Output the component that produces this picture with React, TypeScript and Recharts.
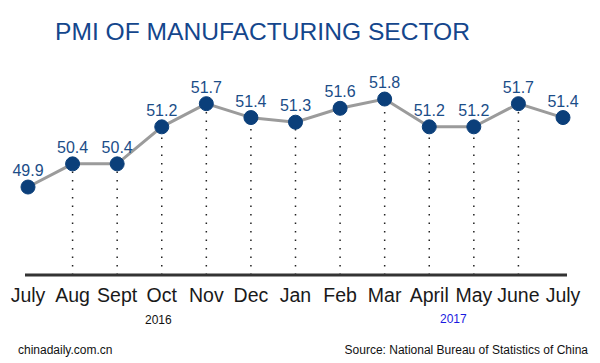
import { LineChart, Line, XAxis, YAxis, LabelList, ReferenceLine } from "recharts";

const months = ["July", "Aug", "Sept", "Oct", "Nov", "Dec", "Jan", "Feb", "Mar", "April", "May", "June", "July"];
const keys = ["2016-07", "2016-08", "2016-09", "2016-10", "2016-11", "2016-12", "2017-01", "2017-02", "2017-03", "2017-04", "2017-05", "2017-06", "2017-07"];
const pmi = [49.9, 50.4, 50.4, 51.2, 51.7, 51.4, 51.3, 51.6, 51.8, 51.2, 51.2, 51.7, 51.4];

const data = keys.map((k, i) => ({ key: k, month: months[i], value: pmi[i] }));

const FONT = '"Liberation Sans", Arial, sans-serif';
const Y_MIN = 48.0;

function MonthTick(props: any) {
  const { x, y, payload } = props;
  return (
    <text x={x} y={y} dy={27} textAnchor="middle" fontSize={19.5} fill="#1a1a1a" fontFamily={FONT}>
      {months[payload.index]}
    </text>
  );
}

export default function App() {
  return (
    <div style={{ position: "relative", width: 600, height: 363, background: "#fff", fontFamily: FONT }}>
      <style>{"body{margin:0}"}</style>
      <div style={{ position: "absolute", left: 55, top: 18, fontSize: 24.6, color: "#14468c", whiteSpace: "nowrap", lineHeight: "28px" }}>
        PMI OF MANUFACTURING SECTOR
      </div>
      <LineChart width={600} height={363} data={data} margin={{ top: 62, right: 33, left: 25, bottom: 48 }}>
        <XAxis
          dataKey="key"
          height={40}
          padding={{ left: 3, right: 4 }}
          axisLine={{ stroke: "#333", strokeWidth: 3 }}
          tickLine={false}
          tickSize={0}
          tickMargin={0}
          interval={0}
          tick={<MonthTick />}
        />
        <YAxis hide domain={[Y_MIN, 52.6]} />
        {data.slice(1, -1).map((d) => (
          <ReferenceLine
            key={d.key}
            segment={[{ x: d.key, y: Y_MIN }, { x: d.key, y: d.value }]}
            stroke="#222"
            strokeWidth={1.5}
            strokeDasharray="1.5 7"
          />
        ))}
        <Line
          type="linear"
          dataKey="value"
          stroke="#9b9b9b"
          strokeWidth={3}
          isAnimationActive={false}
          dot={{ r: 7, fill: "#0b3f7a", stroke: "#0b3f7a", strokeWidth: 1 }}
          activeDot={false}
        >
          <LabelList dataKey="value" position="top" offset={11} fill="#1b4d88" fontSize={16} fontFamily={FONT} />
        </Line>
      </LineChart>
      <div style={{ position: "absolute", left: 145, top: 313, fontSize: 12, color: "#111" }}>2016</div>
      <div style={{ position: "absolute", left: 440, top: 312, fontSize: 12, color: "#1a1ae0" }}>2017</div>
      <div style={{ position: "absolute", left: 18, top: 343, fontSize: 12, color: "#111" }}>chinadaily.com.cn</div>
      <div style={{ position: "absolute", right: 12, top: 343, fontSize: 12, color: "#111" }}>
        Source: National Bureau of Statistics of China
      </div>
    </div>
  );
}
